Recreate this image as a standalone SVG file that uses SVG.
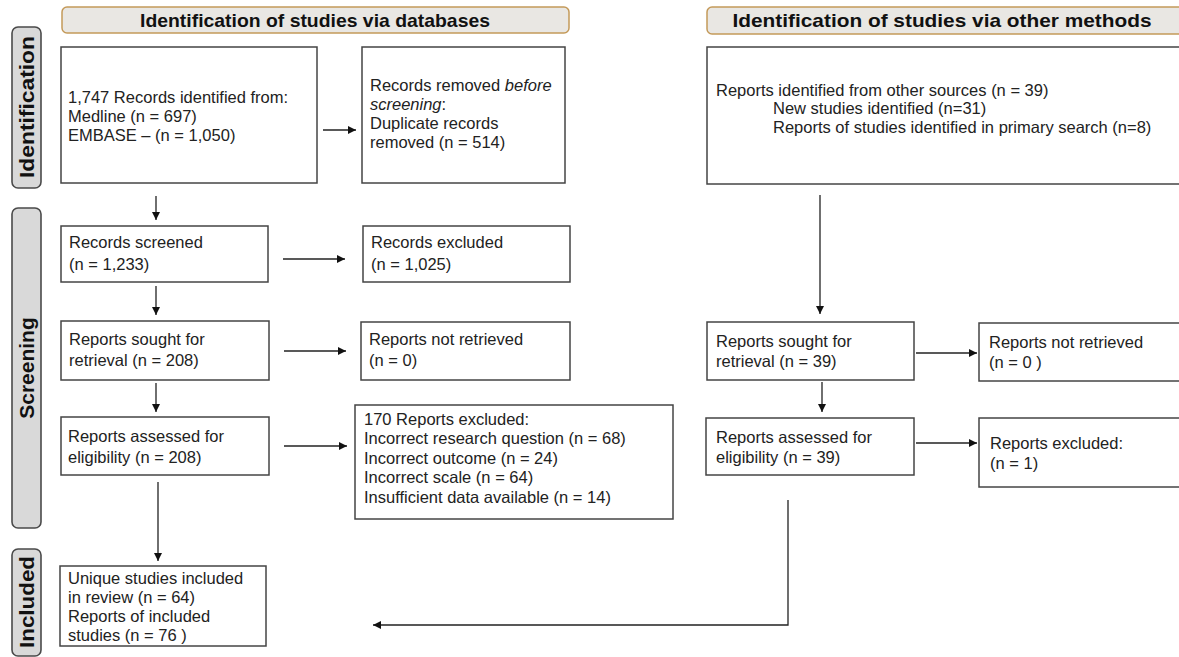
<svg xmlns="http://www.w3.org/2000/svg" width="1179" height="657" viewBox="0 0 1179 657">
<style>
.bg{fill:#ffffff}
.hdr{fill:#e9e7e3;stroke:#c49a5a;stroke-width:1.5}
.hdrt{font-family:"Liberation Sans",Arial,sans-serif;font-weight:bold;font-size:19px;fill:#111;text-anchor:middle}
.stage{fill:#d9d9d9;stroke:#4a4a4a;stroke-width:1.6}
.staget{font-family:"Liberation Sans",Arial,sans-serif;font-weight:bold;font-size:21px;fill:#111;text-anchor:middle}
.box{fill:#fff;stroke:#444;stroke-width:1.5}
.t{font-family:"Liberation Sans",Arial,sans-serif;font-size:16.5px;fill:#222}
.ln{fill:none;stroke:#222;stroke-width:1.3}
</style>
<defs>
<marker id="ah" viewBox="0 0 10 10" refX="10" refY="5" markerWidth="8" markerHeight="8" markerUnits="userSpaceOnUse" orient="auto">
<path d="M0,0 L10,5 L0,10 z" fill="#111"/>
</marker>
</defs>
<rect class="bg" x="0" y="0" width="1179" height="657"/>

<g id="header-databases">
<rect class="hdr" x="62" y="7" width="507" height="26" rx="5"/>
<text class="hdrt" x="315" y="27" textLength="350" lengthAdjust="spacingAndGlyphs">Identification of studies via databases</text>
</g>
<g id="header-other">
<rect class="hdr" x="707" y="7" width="480" height="27" rx="5"/>
<text class="hdrt" x="942" y="27" textLength="419" lengthAdjust="spacingAndGlyphs">Identification of studies via other methods</text>
</g>

<g id="stage-identification">
<rect class="stage" x="12" y="27" width="29" height="161" rx="6"/>
<text class="staget" transform="translate(34,107) rotate(-90)" textLength="142" lengthAdjust="spacingAndGlyphs">Identification</text>
</g>
<g id="stage-screening">
<rect class="stage" x="12" y="208" width="29" height="320" rx="6"/>
<text class="staget" transform="translate(34,368) rotate(-90)">Screening</text>
</g>
<g id="stage-included">
<rect class="stage" x="12" y="549" width="29" height="107" rx="6"/>
<text class="staget" transform="translate(34,602) rotate(-90)" textLength="92" lengthAdjust="spacingAndGlyphs">Included</text>
</g>

<g id="records-identified">
<rect class="box" x="61" y="47" width="256" height="136"/>
<text class="t" x="68" y="103">1,747 Records identified from:</text>
<text class="t" x="68" y="122">Medline (n = 697)</text>
<text class="t" x="68" y="141">EMBASE – (n = 1,050)</text>
</g>
<g id="records-removed">
<rect class="box" x="362" y="47" width="203" height="136"/>
<text class="t" x="370" y="91">Records removed <tspan font-style="italic">before</tspan></text>
<text class="t" x="370" y="110"><tspan font-style="italic">screening</tspan>:</text>
<text class="t" x="370" y="129">Duplicate records</text>
<text class="t" x="370" y="148">removed  (n = 514)</text>
</g>
<g id="other-sources">
<rect class="box" x="707" y="47" width="480" height="137"/>
<text class="t" x="716" y="96">Reports identified from other sources (n = 39)</text>
<text class="t" x="773" y="114">New studies identified (n=31)</text>
<text class="t" x="773" y="133">Reports of studies identified in primary search (n=8)</text>
</g>

<g id="records-screened">
<rect class="box" x="61" y="226" width="207" height="56"/>
<text class="t" x="69" y="248">Records screened</text>
<text class="t" x="69" y="270">(n = 1,233)</text>
</g>
<g id="records-excluded">
<rect class="box" x="363" y="226" width="207" height="56"/>
<text class="t" x="371" y="248">Records excluded</text>
<text class="t" x="371" y="270">(n = 1,025)</text>
</g>
<g id="reports-sought">
<rect class="box" x="61" y="321" width="208" height="59"/>
<text class="t" x="69" y="345">Reports sought for</text>
<text class="t" x="69" y="366">retrieval (n = 208)</text>
</g>
<g id="reports-not-retrieved">
<rect class="box" x="361" y="322" width="209" height="58"/>
<text class="t" x="369" y="345">Reports not retrieved</text>
<text class="t" x="369" y="366">(n = 0)</text>
</g>
<g id="reports-assessed">
<rect class="box" x="61" y="417" width="208" height="58"/>
<text class="t" x="68" y="442">Reports assessed for</text>
<text class="t" x="68" y="463">eligibility (n = 208)</text>
</g>
<g id="reports-excluded">
<rect class="box" x="355" y="405" width="318" height="114"/>
<text class="t" x="364" y="425">170 Reports excluded:</text>
<text class="t" x="364" y="444">Incorrect  research question (n = 68)</text>
<text class="t" x="364" y="464">Incorrect  outcome (n = 24)</text>
<text class="t" x="364" y="483">Incorrect  scale (n = 64)</text>
<text class="t" x="364" y="503">Insufficient  data available (n = 14)</text>
</g>
<g id="studies-included">
<rect class="box" x="60" y="566" width="206" height="80"/>
<text class="t" x="68" y="584">Unique studies included</text>
<text class="t" x="68" y="603">in review (n = 64)</text>
<text class="t" x="68" y="622">Reports of included</text>
<text class="t" x="68" y="641">studies (n = 76 )</text>
</g>

<g id="other-sought">
<rect class="box" x="707" y="322" width="207" height="58"/>
<text class="t" x="716" y="347">Reports sought  for</text>
<text class="t" x="716" y="367">retrieval (n = 39)</text>
</g>
<g id="other-not-retrieved">
<rect class="box" x="979" y="323" width="208" height="58"/>
<text class="t" x="989" y="348">Reports not retrieved</text>
<text class="t" x="989" y="368">(n = 0 )</text>
</g>
<g id="other-assessed">
<rect class="box" x="706" y="418" width="208" height="57"/>
<text class="t" x="716" y="443">Reports assessed for</text>
<text class="t" x="716" y="463">eligibility (n = 39)</text>
</g>
<g id="other-excluded">
<rect class="box" x="979" y="418" width="208" height="69"/>
<text class="t" x="990" y="449">Reports excluded:</text>
<text class="t" x="990" y="469">(n = 1)</text>
</g>

<g id="connectors">
<line class="ln" x1="323" y1="130" x2="356" y2="130" marker-end="url(#ah)"/>
<line class="ln" x1="156" y1="196" x2="156" y2="220" marker-end="url(#ah)"/>
<line class="ln" x1="283" y1="259" x2="345" y2="259" marker-end="url(#ah)"/>
<line class="ln" x1="156" y1="286" x2="156" y2="315" marker-end="url(#ah)"/>
<line class="ln" x1="284" y1="351" x2="346" y2="351" marker-end="url(#ah)"/>
<line class="ln" x1="156" y1="383" x2="156" y2="412" marker-end="url(#ah)"/>
<line class="ln" x1="284" y1="446" x2="347" y2="446" marker-end="url(#ah)"/>
<line class="ln" x1="158" y1="482" x2="158" y2="561" marker-end="url(#ah)"/>
<line class="ln" x1="820" y1="195" x2="820" y2="314" marker-end="url(#ah)"/>
<line class="ln" x1="916" y1="353" x2="977" y2="353" marker-end="url(#ah)"/>
<line class="ln" x1="822" y1="382" x2="822" y2="412" marker-end="url(#ah)"/>
<line class="ln" x1="916" y1="443" x2="977" y2="443" marker-end="url(#ah)"/>
<polyline class="ln" points="788,500 788,625 373,625" marker-end="url(#ah)"/>
</g>
</svg>
